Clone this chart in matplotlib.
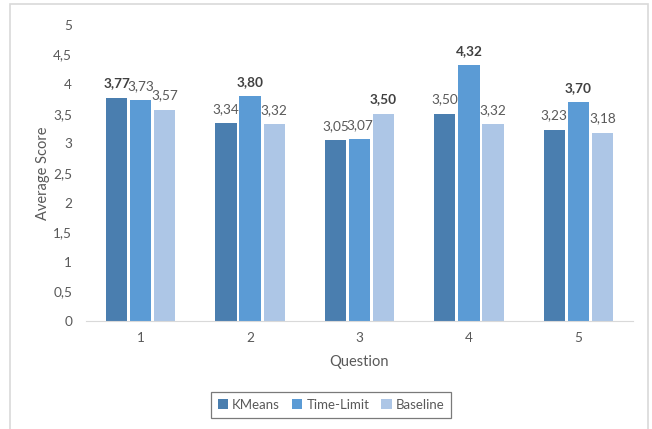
import matplotlib.pyplot as plt
import numpy as np
from matplotlib.patches import Rectangle

questions = ['1', '2', '3', '4', '5']
kmeans = [3.77, 3.34, 3.05, 3.50, 3.23]
time_limit = [3.73, 3.80, 3.07, 4.32, 3.70]
baseline = [3.57, 3.32, 3.50, 3.32, 3.18]
series_names = ['KMeans', 'Time-Limit', 'Baseline']
colors = ['#4A7EAF', '#5B9BD5', '#ADC6E6']
yticks = [0, 0.5, 1, 1.5, 2, 2.5, 3, 3.5, 4, 4.5, 5]

plt.rcParams['font.family'] = ['Lato', 'DejaVu Sans']
grey = '#595959'

fig = plt.figure(figsize=(6.52, 4.29), dpi=100)
# light frame around the chart area
fig.patches.append(Rectangle((10 / 652, -0.1), 638 / 652, 1.1 - 4 / 429,
                             transform=fig.transFigure, fill=False,
                             edgecolor='#D9D9D9', linewidth=1.2))
ax = fig.add_axes([86 / 652, 1 - 321 / 429, 547 / 652, 296 / 429])

x = np.arange(len(questions))
data = [kmeans, time_limit, baseline]
step = 0.22
for i, (vals, name, c) in enumerate(zip(data, series_names, colors)):
    bars = ax.bar(x + (i - 1) * step, vals, width=0.195, color=c, label=name)
    for j, (b, v) in enumerate(zip(bars, vals)):
        group = [d[j] for d in data]
        weight = 'bold' if v == max(group) else 'normal'
        ax.annotate(f'{v:.2f}'.replace('.', ','),
                    (b.get_x() + b.get_width() / 2, v),
                    xytext=(0, 6), textcoords='offset points',
                    ha='center', va='bottom', fontsize=9.8,
                    color='#404040' if weight == 'bold' else grey,
                    fontweight=weight)

ax.set_xlim(-0.5, 4.5)
ax.set_ylim(0, 5)
ax.set_xticks(x)
ax.set_xticklabels(questions)
ax.set_yticks(yticks)
ax.set_yticklabels([f'{t:g}'.replace('.', ',') for t in yticks])
ax.tick_params(length=0, colors=grey, labelsize=9.8)
ax.tick_params(axis='y', pad=10)
ax.tick_params(axis='x', pad=8)
for s in ['top', 'right', 'left']:
    ax.spines[s].set_visible(False)
ax.spines['bottom'].set_color('#D9D9D9')

ax.set_xlabel('Question', color=grey, fontsize=10.5, labelpad=8)
ax.set_ylabel('Average Score', color=grey, fontsize=10.5, labelpad=2)

leg = ax.legend(loc='center', bbox_to_anchor=(331 / 652, 1 - 405 / 429),
                bbox_transform=fig.transFigure, ncol=3, fontsize=9.5,
                frameon=True, fancybox=False, handlelength=0.8,
                handleheight=0.8, handletextpad=0.3, columnspacing=0.9,
                borderpad=0.5)
leg.get_frame().set_edgecolor('#595959')
leg.get_frame().set_linewidth(0.9)
for t in leg.get_texts():
    t.set_color(grey)

fig.savefig('out.png', dpi=100)
